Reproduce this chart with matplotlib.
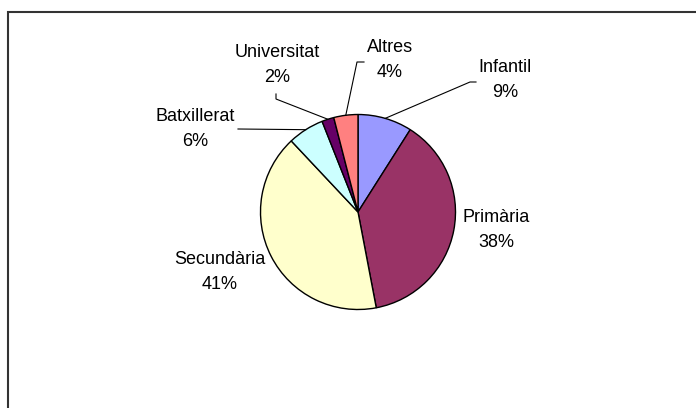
import numpy as np
import matplotlib
matplotlib.use('Agg')
from matplotlib import pyplot as plt
from matplotlib.patches import Rectangle

plt.rcParams.update({
    "font.family": ["Liberation Sans", "DejaVu Sans"],
    "font.size": 13,
})

# Data
labels = ["Infantil", "Primària", "Secundària", "Batxillerat", "Universitat", "Altres"]
shares = [9, 38, 41, 6, 2, 4]
pct_labels = ["9%", "38%", "41%", "6%", "2%", "4%"]
colors = ["#9999FF", "#993366", "#FFFFCC", "#CCFFFF", "#660066", "#FF8080"]

# layout in pixels (y measured from the top)
W, H = 696, 408
cx, cy, r = 358, 212, 97.5
label_pos = [(505, 80), (496, 230), (220, 272), (195, 129), (277, 65), (390, 60)]
leader_pts = {  # elbow points of the leader lines
    0: [(470, 82), (476, 82)],
    3: [(238, 129)],
    4: [(276, 99), (276, 94)],
    5: [(357, 62), (364, 62)],
}

fig = plt.figure(figsize=(W / 100, H / 100), dpi=100)
ax = fig.add_axes([0, 0, 1, 1])

wedges, _ = ax.pie(shares, colors=colors, startangle=90, counterclock=False,
                   center=(cx, H - cy), radius=r,
                   wedgeprops=dict(edgecolor="black", linewidth=1.0))
ax.set_xlim(0, W)
ax.set_ylim(0, H)
ax.set_aspect("equal")
ax.axis("off")

# labels and leader lines
total = sum(shares)
start = 90.0
for i, (lab, pct) in enumerate(zip(labels, pct_labels)):
    span = shares[i] / total * 360
    mid = np.deg2rad(start - span / 2)
    start -= span
    x, y = label_pos[i]
    ax.text(x, H - y, f"{lab}\n{pct}", ha="center", va="center",
            multialignment="center", linespacing=1.6, color="black")
    if i in leader_pts:
        px = [cx + r * np.cos(mid)] + [p[0] for p in leader_pts[i]]
        py = [H - cy + r * np.sin(mid)] + [H - p[1] for p in leader_pts[i]]
        ax.plot(px, py, color="black", linewidth=0.8)

# chart area border (runs off the right and bottom edges)
fig.patches.append(Rectangle((8, -20), W + 20, H - 12 + 20, transform=None,
                             fill=False, edgecolor="#333333", linewidth=1.5))

fig.savefig("out.png", dpi=100, facecolor="white")
